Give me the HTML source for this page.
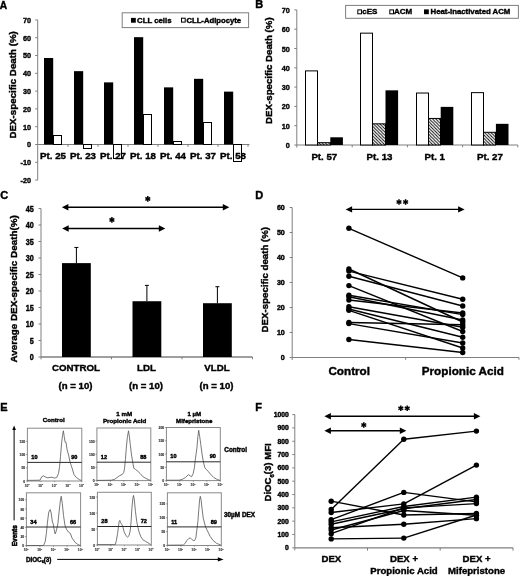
<!DOCTYPE html>
<html><head><meta charset="utf-8"><style>
html,body{margin:0;padding:0;background:#fff;}
svg{display:block;font-family:"Liberation Sans",sans-serif;will-change:transform;}
</style></head><body>
<svg width="520" height="576" viewBox="0 0 520 576">
<rect width="520" height="576" fill="#fff"/>
<text x="-0.20" y="8.80" font-size="10.2" text-anchor="start" font-weight="bold" fill="#000" stroke="#000" stroke-width="0.4" >A</text>
<line x1="37.70" y1="19.90" x2="37.70" y2="180.10" stroke="#7f7f7f" stroke-width="1" />
<line x1="35.20" y1="180.10" x2="37.70" y2="180.10" stroke="#7f7f7f" stroke-width="1" />
<text transform="translate(31.10,182.90) scale(0.9,1)" font-size="8.1" text-anchor="end" font-weight="bold" fill="#000" stroke="#000" stroke-width="0.4">-20</text>
<line x1="35.20" y1="162.30" x2="37.70" y2="162.30" stroke="#7f7f7f" stroke-width="1" />
<text transform="translate(31.10,165.10) scale(0.9,1)" font-size="8.1" text-anchor="end" font-weight="bold" fill="#000" stroke="#000" stroke-width="0.4">-10</text>
<line x1="35.20" y1="144.50" x2="37.70" y2="144.50" stroke="#7f7f7f" stroke-width="1" />
<text transform="translate(31.10,147.30) scale(0.9,1)" font-size="8.1" text-anchor="end" font-weight="bold" fill="#000" stroke="#000" stroke-width="0.4">0</text>
<line x1="35.20" y1="126.70" x2="37.70" y2="126.70" stroke="#7f7f7f" stroke-width="1" />
<text transform="translate(31.10,129.50) scale(0.9,1)" font-size="8.1" text-anchor="end" font-weight="bold" fill="#000" stroke="#000" stroke-width="0.4">10</text>
<line x1="35.20" y1="108.90" x2="37.70" y2="108.90" stroke="#7f7f7f" stroke-width="1" />
<text transform="translate(31.10,111.70) scale(0.9,1)" font-size="8.1" text-anchor="end" font-weight="bold" fill="#000" stroke="#000" stroke-width="0.4">20</text>
<line x1="35.20" y1="91.10" x2="37.70" y2="91.10" stroke="#7f7f7f" stroke-width="1" />
<text transform="translate(31.10,93.90) scale(0.9,1)" font-size="8.1" text-anchor="end" font-weight="bold" fill="#000" stroke="#000" stroke-width="0.4">30</text>
<line x1="35.20" y1="73.30" x2="37.70" y2="73.30" stroke="#7f7f7f" stroke-width="1" />
<text transform="translate(31.10,76.10) scale(0.9,1)" font-size="8.1" text-anchor="end" font-weight="bold" fill="#000" stroke="#000" stroke-width="0.4">40</text>
<line x1="35.20" y1="55.50" x2="37.70" y2="55.50" stroke="#7f7f7f" stroke-width="1" />
<text transform="translate(31.10,58.30) scale(0.9,1)" font-size="8.1" text-anchor="end" font-weight="bold" fill="#000" stroke="#000" stroke-width="0.4">50</text>
<line x1="35.20" y1="37.70" x2="37.70" y2="37.70" stroke="#7f7f7f" stroke-width="1" />
<text transform="translate(31.10,40.50) scale(0.9,1)" font-size="8.1" text-anchor="end" font-weight="bold" fill="#000" stroke="#000" stroke-width="0.4">60</text>
<line x1="35.20" y1="19.90" x2="37.70" y2="19.90" stroke="#7f7f7f" stroke-width="1" />
<text transform="translate(31.10,22.70) scale(0.9,1)" font-size="8.1" text-anchor="end" font-weight="bold" fill="#000" stroke="#000" stroke-width="0.4">70</text>
<line x1="37.70" y1="144.50" x2="249.50" y2="144.50" stroke="#7f7f7f" stroke-width="1" />
<line x1="68.00" y1="144.50" x2="68.00" y2="146.80" stroke="#7f7f7f" stroke-width="1" />
<line x1="98.00" y1="144.50" x2="98.00" y2="146.80" stroke="#7f7f7f" stroke-width="1" />
<line x1="128.00" y1="144.50" x2="128.00" y2="146.80" stroke="#7f7f7f" stroke-width="1" />
<line x1="158.00" y1="144.50" x2="158.00" y2="146.80" stroke="#7f7f7f" stroke-width="1" />
<line x1="188.00" y1="144.50" x2="188.00" y2="146.80" stroke="#7f7f7f" stroke-width="1" />
<line x1="218.00" y1="144.50" x2="218.00" y2="146.80" stroke="#7f7f7f" stroke-width="1" />
<line x1="248.00" y1="144.50" x2="248.00" y2="146.80" stroke="#7f7f7f" stroke-width="1" />
<rect x="44.00" y="57.99" width="9.20" height="86.51" fill="#000" stroke="none" stroke-width="1" />
<rect x="74.00" y="71.16" width="9.20" height="73.34" fill="#000" stroke="none" stroke-width="1" />
<rect x="104.00" y="82.38" width="9.20" height="62.12" fill="#000" stroke="none" stroke-width="1" />
<rect x="134.00" y="37.17" width="9.20" height="107.33" fill="#000" stroke="none" stroke-width="1" />
<rect x="164.00" y="87.36" width="9.20" height="57.14" fill="#000" stroke="none" stroke-width="1" />
<rect x="194.00" y="78.82" width="9.20" height="65.68" fill="#000" stroke="none" stroke-width="1" />
<rect x="224.00" y="91.63" width="9.20" height="52.87" fill="#000" stroke="none" stroke-width="1" />
<text x="53.00" y="159.00" font-size="9.7" text-anchor="middle" font-weight="bold" fill="#000" stroke="#000" stroke-width="0.4" >Pt. 25</text>
<text x="83.00" y="159.00" font-size="9.7" text-anchor="middle" font-weight="bold" fill="#000" stroke="#000" stroke-width="0.4" >Pt. 23</text>
<text x="113.00" y="159.00" font-size="9.7" text-anchor="middle" font-weight="bold" fill="#000" stroke="#000" stroke-width="0.4" >Pt. 27</text>
<text x="143.00" y="159.00" font-size="9.7" text-anchor="middle" font-weight="bold" fill="#000" stroke="#000" stroke-width="0.4" >Pt. 18</text>
<text x="173.00" y="159.00" font-size="9.7" text-anchor="middle" font-weight="bold" fill="#000" stroke="#000" stroke-width="0.4" >Pt. 44</text>
<text x="203.00" y="159.00" font-size="9.7" text-anchor="middle" font-weight="bold" fill="#000" stroke="#000" stroke-width="0.4" >Pt. 37</text>
<text x="233.00" y="159.00" font-size="9.7" text-anchor="middle" font-weight="bold" fill="#000" stroke="#000" stroke-width="0.4" >Pt. 58</text>
<rect x="53.50" y="135.50" width="8.00" height="9.00" fill="none" stroke="#000" stroke-width="1" />
<rect x="83.50" y="144.50" width="8.00" height="4.00" fill="none" stroke="#000" stroke-width="1" />
<rect x="113.50" y="144.50" width="8.00" height="14.00" fill="none" stroke="#000" stroke-width="1" />
<rect x="143.50" y="114.50" width="8.00" height="30.00" fill="none" stroke="#000" stroke-width="1" />
<rect x="173.50" y="141.50" width="8.00" height="3.00" fill="none" stroke="#000" stroke-width="1" />
<rect x="203.50" y="122.50" width="8.00" height="22.00" fill="none" stroke="#000" stroke-width="1" />
<rect x="233.50" y="144.50" width="8.00" height="17.00" fill="none" stroke="#000" stroke-width="1" />
<text transform="translate(15.70,84.80) rotate(-90)" font-size="9.75" text-anchor="middle" font-weight="bold" stroke="#000" stroke-width="0.4">DEX-specific Death (%)</text>
<rect x="122.20" y="12.80" width="126.40" height="14.80" fill="#fff" stroke="#7f7f7f" stroke-width="1" />
<rect x="131.00" y="17.90" width="4.80" height="4.80" fill="#000" stroke="none" stroke-width="1" />
<text x="137.00" y="22.80" font-size="7.8" text-anchor="start" font-weight="bold" fill="#000" stroke="#000" stroke-width="0.4" >CLL cells</text>
<rect x="181.50" y="18.20" width="3.70" height="3.90" fill="none" stroke="#000" stroke-width="1.0" />
<text x="186.40" y="22.80" font-size="7.7" text-anchor="start" font-weight="bold" fill="#000" stroke="#000" stroke-width="0.4" >CLL-Adipocyte</text>
<text x="255.20" y="8.40" font-size="11" text-anchor="start" font-weight="bold" fill="#000" stroke="#000" stroke-width="0.4" >B</text>
<line x1="296.80" y1="9.90" x2="296.80" y2="147.60" stroke="#7f7f7f" stroke-width="1" />
<line x1="294.30" y1="145.00" x2="296.80" y2="145.00" stroke="#7f7f7f" stroke-width="1" />
<text transform="translate(289.80,148.00) scale(0.9,1)" font-size="8.1" text-anchor="end" font-weight="bold" fill="#000" stroke="#000" stroke-width="0.4">0</text>
<line x1="294.30" y1="125.70" x2="296.80" y2="125.70" stroke="#7f7f7f" stroke-width="1" />
<text transform="translate(289.80,128.70) scale(0.9,1)" font-size="8.1" text-anchor="end" font-weight="bold" fill="#000" stroke="#000" stroke-width="0.4">10</text>
<line x1="294.30" y1="106.40" x2="296.80" y2="106.40" stroke="#7f7f7f" stroke-width="1" />
<text transform="translate(289.80,109.40) scale(0.9,1)" font-size="8.1" text-anchor="end" font-weight="bold" fill="#000" stroke="#000" stroke-width="0.4">20</text>
<line x1="294.30" y1="87.10" x2="296.80" y2="87.10" stroke="#7f7f7f" stroke-width="1" />
<text transform="translate(289.80,90.10) scale(0.9,1)" font-size="8.1" text-anchor="end" font-weight="bold" fill="#000" stroke="#000" stroke-width="0.4">30</text>
<line x1="294.30" y1="67.80" x2="296.80" y2="67.80" stroke="#7f7f7f" stroke-width="1" />
<text transform="translate(289.80,70.80) scale(0.9,1)" font-size="8.1" text-anchor="end" font-weight="bold" fill="#000" stroke="#000" stroke-width="0.4">40</text>
<line x1="294.30" y1="48.50" x2="296.80" y2="48.50" stroke="#7f7f7f" stroke-width="1" />
<text transform="translate(289.80,51.50) scale(0.9,1)" font-size="8.1" text-anchor="end" font-weight="bold" fill="#000" stroke="#000" stroke-width="0.4">50</text>
<line x1="294.30" y1="29.20" x2="296.80" y2="29.20" stroke="#7f7f7f" stroke-width="1" />
<text transform="translate(289.80,32.20) scale(0.9,1)" font-size="8.1" text-anchor="end" font-weight="bold" fill="#000" stroke="#000" stroke-width="0.4">60</text>
<line x1="294.30" y1="9.90" x2="296.80" y2="9.90" stroke="#7f7f7f" stroke-width="1" />
<text transform="translate(289.80,12.90) scale(0.9,1)" font-size="8.1" text-anchor="end" font-weight="bold" fill="#000" stroke="#000" stroke-width="0.4">70</text>
<line x1="296.80" y1="145.00" x2="517.80" y2="145.00" stroke="#7f7f7f" stroke-width="1" />
<line x1="352.20" y1="145.00" x2="352.20" y2="147.30" stroke="#7f7f7f" stroke-width="1" />
<line x1="407.40" y1="145.00" x2="407.40" y2="147.30" stroke="#7f7f7f" stroke-width="1" />
<line x1="462.60" y1="145.00" x2="462.60" y2="147.30" stroke="#7f7f7f" stroke-width="1" />
<line x1="517.80" y1="145.00" x2="517.80" y2="147.30" stroke="#7f7f7f" stroke-width="1" />
<defs><pattern id="hatch" patternUnits="userSpaceOnUse" width="3.2" height="3.2"><rect width="3.2" height="3.2" fill="#fff"/><path d="M-1,-1 L4.2,4.2 M-1,2.2 L1,4.2 M2.2,-1 L4.2,1" stroke="#000" stroke-width="0.95"/></pattern></defs>
<rect x="305.50" y="70.89" width="12.00" height="74.11" fill="#fff" stroke="#000" stroke-width="1" />
<rect x="317.50" y="142.69" width="13.00" height="2.31" fill="url(#hatch)" stroke="#000" stroke-width="1" />
<rect x="330.30" y="137.30" width="12.60" height="7.70" fill="#000" stroke="none" stroke-width="1" />
<text x="324.35" y="159.60" font-size="9.7" text-anchor="middle" font-weight="bold" fill="#000" stroke="#000" stroke-width="0.4" >Pt. 57</text>
<rect x="360.50" y="33.16" width="12.00" height="111.84" fill="#fff" stroke="#000" stroke-width="1" />
<rect x="372.50" y="123.83" width="13.00" height="21.18" fill="url(#hatch)" stroke="#000" stroke-width="1" />
<rect x="385.50" y="90.33" width="12.60" height="54.67" fill="#000" stroke="none" stroke-width="1" />
<text x="379.55" y="159.60" font-size="9.7" text-anchor="middle" font-weight="bold" fill="#000" stroke="#000" stroke-width="0.4" >Pt. 13</text>
<rect x="416.50" y="93.03" width="12.00" height="51.98" fill="#fff" stroke="#000" stroke-width="1" />
<rect x="428.50" y="118.44" width="12.00" height="26.57" fill="url(#hatch)" stroke="#000" stroke-width="1" />
<rect x="440.70" y="106.88" width="12.60" height="38.12" fill="#000" stroke="none" stroke-width="1" />
<text x="434.75" y="159.60" font-size="9.7" text-anchor="middle" font-weight="bold" fill="#000" stroke="#000" stroke-width="0.4" >Pt. 1</text>
<rect x="471.50" y="92.64" width="12.00" height="52.36" fill="#fff" stroke="#000" stroke-width="1" />
<rect x="483.50" y="132.29" width="12.00" height="12.71" fill="url(#hatch)" stroke="#000" stroke-width="1" />
<rect x="495.90" y="123.83" width="12.60" height="21.18" fill="#000" stroke="none" stroke-width="1" />
<text x="489.95" y="159.60" font-size="9.7" text-anchor="middle" font-weight="bold" fill="#000" stroke="#000" stroke-width="0.4" >Pt. 27</text>
<text transform="translate(272.30,70.60) rotate(-90)" font-size="9.7" text-anchor="middle" font-weight="bold" stroke="#000" stroke-width="0.4">DEX-specific Death (%)</text>
<rect x="345.60" y="5.40" width="172.80" height="12.90" fill="#fff" stroke="#7f7f7f" stroke-width="1" />
<rect x="357.80" y="9.90" width="3.70" height="3.90" fill="none" stroke="#000" stroke-width="1.0" />
<text x="362.30" y="14.20" font-size="8.0" text-anchor="start" font-weight="bold" fill="#000" stroke="#000" stroke-width="0.4" >cES</text>
<rect x="389.80" y="9.90" width="3.70" height="3.90" fill="none" stroke="#000" stroke-width="1.0" />
<text x="394.00" y="14.20" font-size="8.0" text-anchor="start" font-weight="bold" fill="#000" stroke="#000" stroke-width="0.4" >ACM</text>
<rect x="424.00" y="9.40" width="4.80" height="4.80" fill="#000" stroke="none" stroke-width="1" />
<text x="430.50" y="14.20" font-size="7.8" text-anchor="start" font-weight="bold" fill="#000" stroke="#000" stroke-width="0.4" >Heat-inactivated ACM</text>
<text x="0.20" y="198.60" font-size="11" text-anchor="start" font-weight="bold" fill="#000" stroke="#000" stroke-width="0.4" >C</text>
<line x1="41.00" y1="208.50" x2="41.00" y2="359.40" stroke="#7f7f7f" stroke-width="1" />
<line x1="38.50" y1="357.00" x2="41.00" y2="357.00" stroke="#7f7f7f" stroke-width="1" />
<text transform="translate(33.70,360.00) scale(0.88,1)" font-size="8.2" text-anchor="end" font-weight="bold" fill="#000" stroke="#000" stroke-width="0.4">0</text>
<line x1="38.50" y1="340.50" x2="41.00" y2="340.50" stroke="#7f7f7f" stroke-width="1" />
<text transform="translate(33.70,343.50) scale(0.88,1)" font-size="8.2" text-anchor="end" font-weight="bold" fill="#000" stroke="#000" stroke-width="0.4">5</text>
<line x1="38.50" y1="324.00" x2="41.00" y2="324.00" stroke="#7f7f7f" stroke-width="1" />
<text transform="translate(33.70,327.00) scale(0.88,1)" font-size="8.2" text-anchor="end" font-weight="bold" fill="#000" stroke="#000" stroke-width="0.4">10</text>
<line x1="38.50" y1="307.50" x2="41.00" y2="307.50" stroke="#7f7f7f" stroke-width="1" />
<text transform="translate(33.70,310.50) scale(0.88,1)" font-size="8.2" text-anchor="end" font-weight="bold" fill="#000" stroke="#000" stroke-width="0.4">15</text>
<line x1="38.50" y1="291.00" x2="41.00" y2="291.00" stroke="#7f7f7f" stroke-width="1" />
<text transform="translate(33.70,294.00) scale(0.88,1)" font-size="8.2" text-anchor="end" font-weight="bold" fill="#000" stroke="#000" stroke-width="0.4">20</text>
<line x1="38.50" y1="274.50" x2="41.00" y2="274.50" stroke="#7f7f7f" stroke-width="1" />
<text transform="translate(33.70,277.50) scale(0.88,1)" font-size="8.2" text-anchor="end" font-weight="bold" fill="#000" stroke="#000" stroke-width="0.4">25</text>
<line x1="38.50" y1="258.00" x2="41.00" y2="258.00" stroke="#7f7f7f" stroke-width="1" />
<text transform="translate(33.70,261.00) scale(0.88,1)" font-size="8.2" text-anchor="end" font-weight="bold" fill="#000" stroke="#000" stroke-width="0.4">30</text>
<line x1="38.50" y1="241.50" x2="41.00" y2="241.50" stroke="#7f7f7f" stroke-width="1" />
<text transform="translate(33.70,244.50) scale(0.88,1)" font-size="8.2" text-anchor="end" font-weight="bold" fill="#000" stroke="#000" stroke-width="0.4">35</text>
<line x1="38.50" y1="225.00" x2="41.00" y2="225.00" stroke="#7f7f7f" stroke-width="1" />
<text transform="translate(33.70,228.00) scale(0.88,1)" font-size="8.2" text-anchor="end" font-weight="bold" fill="#000" stroke="#000" stroke-width="0.4">40</text>
<line x1="38.50" y1="208.50" x2="41.00" y2="208.50" stroke="#7f7f7f" stroke-width="1" />
<text transform="translate(33.70,211.50) scale(0.88,1)" font-size="8.2" text-anchor="end" font-weight="bold" fill="#000" stroke="#000" stroke-width="0.4">45</text>
<line x1="41.00" y1="357.00" x2="252.50" y2="357.00" stroke="#7f7f7f" stroke-width="1.3" />
<line x1="111.50" y1="357.00" x2="111.50" y2="359.30" stroke="#7f7f7f" stroke-width="1" />
<line x1="182.00" y1="357.00" x2="182.00" y2="359.30" stroke="#7f7f7f" stroke-width="1" />
<line x1="252.50" y1="357.00" x2="252.50" y2="359.30" stroke="#7f7f7f" stroke-width="1" />
<rect x="62.00" y="263.12" width="28.80" height="93.88" fill="#000" stroke="none" stroke-width="1" />
<line x1="76.40" y1="263.12" x2="76.40" y2="247.44" stroke="#000" stroke-width="1" />
<line x1="74.40" y1="247.44" x2="78.40" y2="247.44" stroke="#000" stroke-width="1" />
<text x="75.90" y="371.30" font-size="9.7" text-anchor="middle" font-weight="bold" fill="#000" stroke="#000" stroke-width="0.4" >CONTROL</text>
<text x="75.50" y="389.00" font-size="9.6" text-anchor="middle" font-weight="bold" fill="#000" stroke="#000" stroke-width="0.4" >(n = 10)</text>
<rect x="132.50" y="301.23" width="28.80" height="55.77" fill="#000" stroke="none" stroke-width="1" />
<line x1="146.90" y1="301.23" x2="146.90" y2="285.39" stroke="#000" stroke-width="1" />
<line x1="144.90" y1="285.39" x2="148.90" y2="285.39" stroke="#000" stroke-width="1" />
<text x="146.40" y="371.30" font-size="9.7" text-anchor="middle" font-weight="bold" fill="#000" stroke="#000" stroke-width="0.4" >LDL</text>
<text x="146.00" y="389.00" font-size="9.6" text-anchor="middle" font-weight="bold" fill="#000" stroke="#000" stroke-width="0.4" >(n = 10)</text>
<rect x="203.00" y="303.21" width="28.80" height="53.79" fill="#000" stroke="none" stroke-width="1" />
<line x1="217.40" y1="303.21" x2="217.40" y2="286.71" stroke="#000" stroke-width="1" />
<line x1="215.40" y1="286.71" x2="219.40" y2="286.71" stroke="#000" stroke-width="1" />
<text x="216.90" y="371.30" font-size="9.7" text-anchor="middle" font-weight="bold" fill="#000" stroke="#000" stroke-width="0.4" >VLDL</text>
<text x="216.50" y="389.00" font-size="9.6" text-anchor="middle" font-weight="bold" fill="#000" stroke="#000" stroke-width="0.4" >(n = 10)</text>
<text transform="translate(17.20,288.80) rotate(-90)" font-size="9.9" text-anchor="middle" font-weight="bold" stroke="#000" stroke-width="0.4">Average DEX-specific Death(%)</text>
<line x1="67.10" y1="207.20" x2="224.10" y2="207.20" stroke="#000" stroke-width="1.4" />
<polygon points="61.90,207.20 68.40,204.00 68.40,210.40" fill="#000"/>
<polygon points="229.30,207.20 222.80,204.00 222.80,210.40" fill="#000"/>
<line x1="67.40" y1="228.50" x2="160.10" y2="228.50" stroke="#000" stroke-width="1.4" />
<polygon points="62.20,228.50 68.70,225.30 68.70,231.70" fill="#000"/>
<polygon points="165.30,228.50 158.80,225.30 158.80,231.70" fill="#000"/>
<line x1="147.80" y1="196.10" x2="147.80" y2="201.70" stroke="#000" stroke-width="1.5" />
<line x1="145.38" y1="197.50" x2="150.22" y2="200.30" stroke="#000" stroke-width="1.5" />
<line x1="150.22" y1="197.50" x2="145.38" y2="200.30" stroke="#000" stroke-width="1.5" />
<line x1="111.90" y1="217.10" x2="111.90" y2="222.70" stroke="#000" stroke-width="1.5" />
<line x1="109.48" y1="218.50" x2="114.32" y2="221.30" stroke="#000" stroke-width="1.5" />
<line x1="114.32" y1="218.50" x2="109.48" y2="221.30" stroke="#000" stroke-width="1.5" />
<text x="255.20" y="198.80" font-size="11" text-anchor="start" font-weight="bold" fill="#000" stroke="#000" stroke-width="0.4" >D</text>
<line x1="292.20" y1="207.50" x2="292.20" y2="360.00" stroke="#7f7f7f" stroke-width="1" />
<line x1="289.70" y1="357.50" x2="292.20" y2="357.50" stroke="#7f7f7f" stroke-width="1" />
<text x="284.80" y="360.20" font-size="7.1" text-anchor="end" font-weight="bold" fill="#000" stroke="#000" stroke-width="0.4" >0</text>
<line x1="289.70" y1="332.50" x2="292.20" y2="332.50" stroke="#7f7f7f" stroke-width="1" />
<text x="284.80" y="335.20" font-size="7.1" text-anchor="end" font-weight="bold" fill="#000" stroke="#000" stroke-width="0.4" >10</text>
<line x1="289.70" y1="307.50" x2="292.20" y2="307.50" stroke="#7f7f7f" stroke-width="1" />
<text x="284.80" y="310.20" font-size="7.1" text-anchor="end" font-weight="bold" fill="#000" stroke="#000" stroke-width="0.4" >20</text>
<line x1="289.70" y1="282.50" x2="292.20" y2="282.50" stroke="#7f7f7f" stroke-width="1" />
<text x="284.80" y="285.20" font-size="7.1" text-anchor="end" font-weight="bold" fill="#000" stroke="#000" stroke-width="0.4" >30</text>
<line x1="289.70" y1="257.50" x2="292.20" y2="257.50" stroke="#7f7f7f" stroke-width="1" />
<text x="284.80" y="260.20" font-size="7.1" text-anchor="end" font-weight="bold" fill="#000" stroke="#000" stroke-width="0.4" >40</text>
<line x1="289.70" y1="232.50" x2="292.20" y2="232.50" stroke="#7f7f7f" stroke-width="1" />
<text x="284.80" y="235.20" font-size="7.1" text-anchor="end" font-weight="bold" fill="#000" stroke="#000" stroke-width="0.4" >50</text>
<line x1="289.70" y1="207.50" x2="292.20" y2="207.50" stroke="#7f7f7f" stroke-width="1" />
<text x="284.80" y="210.20" font-size="7.1" text-anchor="end" font-weight="bold" fill="#000" stroke="#000" stroke-width="0.4" >60</text>
<line x1="292.20" y1="357.50" x2="519.00" y2="357.50" stroke="#7f7f7f" stroke-width="1" />
<line x1="405.60" y1="357.50" x2="405.60" y2="359.80" stroke="#7f7f7f" stroke-width="1" />
<line x1="519.00" y1="357.50" x2="519.00" y2="359.80" stroke="#7f7f7f" stroke-width="1" />
<text x="349.20" y="375.30" font-size="11.7" text-anchor="middle" font-weight="bold" fill="#000" stroke="#000" stroke-width="0.4" >Control</text>
<text x="462.80" y="375.30" font-size="11.7" text-anchor="middle" font-weight="bold" fill="#000" stroke="#000" stroke-width="0.4" >Propionic Acid</text>
<text transform="translate(267.80,279.70) rotate(-90)" font-size="9.7" text-anchor="middle" font-weight="bold" stroke="#000" stroke-width="0.4">DEX-specific death (%)</text>
<line x1="350.80" y1="209.40" x2="459.40" y2="209.40" stroke="#000" stroke-width="1.4" />
<polygon points="345.60,209.40 352.10,206.20 352.10,212.60" fill="#000"/>
<polygon points="464.60,209.40 458.10,206.20 458.10,212.60" fill="#000"/>
<line x1="399.00" y1="199.20" x2="399.00" y2="204.80" stroke="#000" stroke-width="1.5" />
<line x1="396.58" y1="200.60" x2="401.42" y2="203.40" stroke="#000" stroke-width="1.5" />
<line x1="401.42" y1="200.60" x2="396.58" y2="203.40" stroke="#000" stroke-width="1.5" />
<line x1="405.60" y1="199.20" x2="405.60" y2="204.80" stroke="#000" stroke-width="1.5" />
<line x1="403.18" y1="200.60" x2="408.02" y2="203.40" stroke="#000" stroke-width="1.5" />
<line x1="408.02" y1="200.60" x2="403.18" y2="203.40" stroke="#000" stroke-width="1.5" />
<line x1="348.90" y1="228.30" x2="462.70" y2="277.90" stroke="#000" stroke-width="1.4" />
<line x1="348.90" y1="269.00" x2="462.70" y2="322.00" stroke="#000" stroke-width="1.4" />
<line x1="348.90" y1="271.10" x2="462.70" y2="299.30" stroke="#000" stroke-width="1.4" />
<line x1="348.90" y1="276.30" x2="462.70" y2="306.00" stroke="#000" stroke-width="1.4" />
<line x1="348.90" y1="285.60" x2="462.70" y2="331.50" stroke="#000" stroke-width="1.4" />
<line x1="348.90" y1="295.30" x2="462.70" y2="314.60" stroke="#000" stroke-width="1.4" />
<line x1="348.90" y1="296.80" x2="462.70" y2="320.00" stroke="#000" stroke-width="1.4" />
<line x1="348.90" y1="300.00" x2="462.70" y2="313.00" stroke="#000" stroke-width="1.4" />
<line x1="348.90" y1="306.70" x2="462.70" y2="327.30" stroke="#000" stroke-width="1.4" />
<line x1="348.90" y1="309.00" x2="462.70" y2="337.20" stroke="#000" stroke-width="1.4" />
<line x1="348.90" y1="310.30" x2="462.70" y2="348.00" stroke="#000" stroke-width="1.4" />
<line x1="348.90" y1="322.50" x2="462.70" y2="324.80" stroke="#000" stroke-width="1.4" />
<line x1="348.90" y1="323.60" x2="462.70" y2="343.00" stroke="#000" stroke-width="1.4" />
<line x1="348.90" y1="339.50" x2="462.70" y2="352.50" stroke="#000" stroke-width="1.4" />
<circle cx="348.90" cy="228.30" r="2.7" fill="#000"/>
<circle cx="462.70" cy="277.90" r="2.7" fill="#000"/>
<circle cx="348.90" cy="269.00" r="2.7" fill="#000"/>
<circle cx="462.70" cy="322.00" r="2.7" fill="#000"/>
<circle cx="348.90" cy="271.10" r="2.7" fill="#000"/>
<circle cx="462.70" cy="299.30" r="2.7" fill="#000"/>
<circle cx="348.90" cy="276.30" r="2.7" fill="#000"/>
<circle cx="462.70" cy="306.00" r="2.7" fill="#000"/>
<circle cx="348.90" cy="285.60" r="2.7" fill="#000"/>
<circle cx="462.70" cy="331.50" r="2.7" fill="#000"/>
<circle cx="348.90" cy="295.30" r="2.7" fill="#000"/>
<circle cx="462.70" cy="314.60" r="2.7" fill="#000"/>
<circle cx="348.90" cy="296.80" r="2.7" fill="#000"/>
<circle cx="462.70" cy="320.00" r="2.7" fill="#000"/>
<circle cx="348.90" cy="300.00" r="2.7" fill="#000"/>
<circle cx="462.70" cy="313.00" r="2.7" fill="#000"/>
<circle cx="348.90" cy="306.70" r="2.7" fill="#000"/>
<circle cx="462.70" cy="327.30" r="2.7" fill="#000"/>
<circle cx="348.90" cy="309.00" r="2.7" fill="#000"/>
<circle cx="462.70" cy="337.20" r="2.7" fill="#000"/>
<circle cx="348.90" cy="310.30" r="2.7" fill="#000"/>
<circle cx="462.70" cy="348.00" r="2.7" fill="#000"/>
<circle cx="348.90" cy="322.50" r="2.7" fill="#000"/>
<circle cx="462.70" cy="324.80" r="2.7" fill="#000"/>
<circle cx="348.90" cy="323.60" r="2.7" fill="#000"/>
<circle cx="462.70" cy="343.00" r="2.7" fill="#000"/>
<circle cx="348.90" cy="339.50" r="2.7" fill="#000"/>
<circle cx="462.70" cy="352.50" r="2.7" fill="#000"/>
<text x="0.30" y="411.00" font-size="11" text-anchor="start" font-weight="bold" fill="#000" stroke="#000" stroke-width="0.4" >E</text>
<line x1="14.10" y1="428.50" x2="14.10" y2="520.40" stroke="#000" stroke-width="1" />
<polygon points="14.1,425.6 12.3,430 15.9,430" fill="#000"/>
<text transform="translate(16.70,535.70) rotate(-90)" font-size="6.4" text-anchor="middle" font-weight="bold" stroke="#000" stroke-width="0.55">Events</text>
<text x="25.90" y="561.60" font-size="6.3" text-anchor="start" font-weight="bold" fill="#000" stroke="#000" stroke-width="0.4" >DIOC<tspan font-size="3.8" dy="1.3">6</tspan><tspan dy="-1.3">(3)</tspan></text>
<line x1="57.20" y1="559.40" x2="221.00" y2="559.40" stroke="#000" stroke-width="1" />
<polygon points="223.6,559.4 217.8,557.3 217.8,561.5" fill="#000"/>
<text x="53.70" y="422.40" font-size="6.2" text-anchor="middle" font-weight="bold" fill="#000" stroke="#000" stroke-width="0.4" >Control</text>
<text x="124.20" y="415.60" font-size="6.2" text-anchor="middle" font-weight="bold" fill="#000" stroke="#000" stroke-width="0.4" >1 mM</text>
<text x="124.60" y="422.90" font-size="6.2" text-anchor="middle" font-weight="bold" fill="#000" stroke="#000" stroke-width="0.4" >Propionic Acid</text>
<text x="194.30" y="415.90" font-size="6.1" text-anchor="middle" font-weight="bold" fill="#000" stroke="#000" stroke-width="0.4" >1 µM</text>
<text x="194.20" y="422.80" font-size="6.1" text-anchor="middle" font-weight="bold" fill="#000" stroke="#000" stroke-width="0.4" >Mifepristone</text>
<text x="224.30" y="451.60" font-size="6.4" text-anchor="start" font-weight="bold" fill="#000" stroke="#000" stroke-width="0.4" >Control</text>
<text x="224.00" y="516.60" font-size="6.4" text-anchor="start" font-weight="bold" fill="#000" stroke="#000" stroke-width="0.4" >30µM DEX</text>
<rect x="27.40" y="428.20" width="54.40" height="52.80" fill="#fff" stroke="#8a8a8a" stroke-width="1" />
<polyline points="27.50,480.40 40.00,480.20 41.70,476.90 43.50,475.80 45.20,476.90 47.50,477.80 49.80,477.50 52.10,477.20 54.40,478.10 56.70,477.50 58.50,473.50 59.60,466.50 60.50,456.20 61.70,442.30 62.50,435.40 63.40,430.80 64.20,436.50 65.20,442.30 66.00,442.30 67.10,449.80 68.60,455.00 70.00,461.90 71.20,465.40 72.30,468.80 74.00,474.60 76.30,477.50 79.20,479.50 81.50,480.60" fill="none" stroke="#555" stroke-width="0.8" stroke-linejoin="round"/>
<line x1="27.40" y1="462.40" x2="81.80" y2="462.40" stroke="#2a2a2a" stroke-width="1.0" />
<text x="31.30" y="459.00" font-size="5.6" text-anchor="start" font-weight="bold" fill="#000" stroke="#000" stroke-width="0.4" >10</text>
<text x="71.20" y="459.00" font-size="5.6" text-anchor="start" font-weight="bold" fill="#000" stroke="#000" stroke-width="0.4" >90</text>
<line x1="27.40" y1="481.00" x2="27.40" y2="482.20" stroke="#666" stroke-width="0.6" />
<text x="27.10" y="486.60" font-size="3.3" text-anchor="middle" font-weight="bold" fill="#444" stroke="#444" stroke-width="0.15" >10<tspan font-size="2.2" dy="-1.2">0</tspan></text>
<line x1="41.00" y1="481.00" x2="41.00" y2="482.20" stroke="#666" stroke-width="0.6" />
<text x="40.70" y="486.60" font-size="3.3" text-anchor="middle" font-weight="bold" fill="#444" stroke="#444" stroke-width="0.15" >10<tspan font-size="2.2" dy="-1.2">1</tspan></text>
<line x1="54.60" y1="481.00" x2="54.60" y2="482.20" stroke="#666" stroke-width="0.6" />
<text x="54.30" y="486.60" font-size="3.3" text-anchor="middle" font-weight="bold" fill="#444" stroke="#444" stroke-width="0.15" >10<tspan font-size="2.2" dy="-1.2">2</tspan></text>
<line x1="68.20" y1="481.00" x2="68.20" y2="482.20" stroke="#666" stroke-width="0.6" />
<text x="67.90" y="486.60" font-size="3.3" text-anchor="middle" font-weight="bold" fill="#444" stroke="#444" stroke-width="0.15" >10<tspan font-size="2.2" dy="-1.2">3</tspan></text>
<line x1="81.80" y1="481.00" x2="81.80" y2="482.20" stroke="#666" stroke-width="0.6" />
<text x="81.50" y="486.60" font-size="3.3" text-anchor="middle" font-weight="bold" fill="#444" stroke="#444" stroke-width="0.15" >10<tspan font-size="2.2" dy="-1.2">4</tspan></text>
<line x1="25.90" y1="441.40" x2="27.40" y2="441.40" stroke="#666" stroke-width="0.6" />
<text x="25.20" y="443.00" font-size="3.4" text-anchor="end" font-weight="bold" fill="#333" stroke="#333" stroke-width="0.15" >150</text>
<line x1="25.90" y1="454.60" x2="27.40" y2="454.60" stroke="#666" stroke-width="0.6" />
<text x="25.20" y="456.20" font-size="3.4" text-anchor="end" font-weight="bold" fill="#333" stroke="#333" stroke-width="0.15" >100</text>
<line x1="25.90" y1="467.80" x2="27.40" y2="467.80" stroke="#666" stroke-width="0.6" />
<text x="25.20" y="469.40" font-size="3.4" text-anchor="end" font-weight="bold" fill="#333" stroke="#333" stroke-width="0.15" >50</text>
<line x1="25.90" y1="481.00" x2="27.40" y2="481.00" stroke="#666" stroke-width="0.6" />
<text x="25.20" y="482.60" font-size="3.4" text-anchor="end" font-weight="bold" fill="#333" stroke="#333" stroke-width="0.15" >0</text>
<rect x="96.90" y="428.00" width="53.90" height="52.60" fill="#fff" stroke="#8a8a8a" stroke-width="1" />
<polyline points="96.90,480.40 111.30,480.20 114.80,479.20 117.10,477.50 119.40,475.80 122.30,474.40 123.80,472.30 124.60,467.70 125.40,459.60 126.30,448.10 127.30,437.80 128.50,430.80 129.30,436.00 130.30,444.60 131.50,455.00 132.70,461.90 133.80,468.30 135.50,469.40 137.80,471.20 140.20,473.50 142.50,476.30 145.30,478.10 148.20,479.50 150.50,480.40" fill="none" stroke="#555" stroke-width="0.8" stroke-linejoin="round"/>
<line x1="96.90" y1="462.20" x2="150.80" y2="462.20" stroke="#2a2a2a" stroke-width="1.0" />
<text x="100.80" y="458.80" font-size="5.6" text-anchor="start" font-weight="bold" fill="#000" stroke="#000" stroke-width="0.4" >12</text>
<text x="140.20" y="458.80" font-size="5.6" text-anchor="start" font-weight="bold" fill="#000" stroke="#000" stroke-width="0.4" >88</text>
<line x1="96.90" y1="480.60" x2="96.90" y2="481.80" stroke="#666" stroke-width="0.6" />
<text x="96.60" y="486.20" font-size="3.3" text-anchor="middle" font-weight="bold" fill="#444" stroke="#444" stroke-width="0.15" >10<tspan font-size="2.2" dy="-1.2">0</tspan></text>
<line x1="110.38" y1="480.60" x2="110.38" y2="481.80" stroke="#666" stroke-width="0.6" />
<text x="110.08" y="486.20" font-size="3.3" text-anchor="middle" font-weight="bold" fill="#444" stroke="#444" stroke-width="0.15" >10<tspan font-size="2.2" dy="-1.2">1</tspan></text>
<line x1="123.85" y1="480.60" x2="123.85" y2="481.80" stroke="#666" stroke-width="0.6" />
<text x="123.55" y="486.20" font-size="3.3" text-anchor="middle" font-weight="bold" fill="#444" stroke="#444" stroke-width="0.15" >10<tspan font-size="2.2" dy="-1.2">2</tspan></text>
<line x1="137.33" y1="480.60" x2="137.33" y2="481.80" stroke="#666" stroke-width="0.6" />
<text x="137.03" y="486.20" font-size="3.3" text-anchor="middle" font-weight="bold" fill="#444" stroke="#444" stroke-width="0.15" >10<tspan font-size="2.2" dy="-1.2">3</tspan></text>
<line x1="150.80" y1="480.60" x2="150.80" y2="481.80" stroke="#666" stroke-width="0.6" />
<text x="150.50" y="486.20" font-size="3.3" text-anchor="middle" font-weight="bold" fill="#444" stroke="#444" stroke-width="0.15" >10<tspan font-size="2.2" dy="-1.2">4</tspan></text>
<line x1="95.40" y1="441.15" x2="96.90" y2="441.15" stroke="#666" stroke-width="0.6" />
<text x="94.70" y="442.75" font-size="3.4" text-anchor="end" font-weight="bold" fill="#333" stroke="#333" stroke-width="0.15" >150</text>
<line x1="95.40" y1="454.30" x2="96.90" y2="454.30" stroke="#666" stroke-width="0.6" />
<text x="94.70" y="455.90" font-size="3.4" text-anchor="end" font-weight="bold" fill="#333" stroke="#333" stroke-width="0.15" >100</text>
<line x1="95.40" y1="467.45" x2="96.90" y2="467.45" stroke="#666" stroke-width="0.6" />
<text x="94.70" y="469.05" font-size="3.4" text-anchor="end" font-weight="bold" fill="#333" stroke="#333" stroke-width="0.15" >50</text>
<line x1="95.40" y1="480.60" x2="96.90" y2="480.60" stroke="#666" stroke-width="0.6" />
<text x="94.70" y="482.20" font-size="3.4" text-anchor="end" font-weight="bold" fill="#333" stroke="#333" stroke-width="0.15" >0</text>
<rect x="166.40" y="427.50" width="53.90" height="53.10" fill="#fff" stroke="#8a8a8a" stroke-width="1" />
<polyline points="166.40,480.20 179.20,480.20 182.60,479.20 185.50,477.50 188.40,474.60 190.10,475.80 191.60,476.70 193.20,473.50 194.40,467.70 195.30,459.60 196.90,448.10 197.90,436.50 198.70,430.30 199.70,436.50 200.80,444.60 202.20,455.00 203.40,461.90 204.80,467.70 206.30,469.40 208.00,471.20 210.30,474.00 213.80,477.50 217.20,479.50 220.10,480.40" fill="none" stroke="#555" stroke-width="0.8" stroke-linejoin="round"/>
<line x1="166.40" y1="461.80" x2="220.30" y2="461.80" stroke="#2a2a2a" stroke-width="1.0" />
<text x="170.30" y="458.40" font-size="5.6" text-anchor="start" font-weight="bold" fill="#000" stroke="#000" stroke-width="0.4" >10</text>
<text x="209.70" y="458.40" font-size="5.6" text-anchor="start" font-weight="bold" fill="#000" stroke="#000" stroke-width="0.4" >90</text>
<line x1="166.40" y1="480.60" x2="166.40" y2="481.80" stroke="#666" stroke-width="0.6" />
<text x="166.10" y="486.20" font-size="3.3" text-anchor="middle" font-weight="bold" fill="#444" stroke="#444" stroke-width="0.15" >10<tspan font-size="2.2" dy="-1.2">0</tspan></text>
<line x1="179.88" y1="480.60" x2="179.88" y2="481.80" stroke="#666" stroke-width="0.6" />
<text x="179.57" y="486.20" font-size="3.3" text-anchor="middle" font-weight="bold" fill="#444" stroke="#444" stroke-width="0.15" >10<tspan font-size="2.2" dy="-1.2">1</tspan></text>
<line x1="193.35" y1="480.60" x2="193.35" y2="481.80" stroke="#666" stroke-width="0.6" />
<text x="193.05" y="486.20" font-size="3.3" text-anchor="middle" font-weight="bold" fill="#444" stroke="#444" stroke-width="0.15" >10<tspan font-size="2.2" dy="-1.2">2</tspan></text>
<line x1="206.83" y1="480.60" x2="206.83" y2="481.80" stroke="#666" stroke-width="0.6" />
<text x="206.53" y="486.20" font-size="3.3" text-anchor="middle" font-weight="bold" fill="#444" stroke="#444" stroke-width="0.15" >10<tspan font-size="2.2" dy="-1.2">3</tspan></text>
<line x1="220.30" y1="480.60" x2="220.30" y2="481.80" stroke="#666" stroke-width="0.6" />
<text x="220.00" y="486.20" font-size="3.3" text-anchor="middle" font-weight="bold" fill="#444" stroke="#444" stroke-width="0.15" >10<tspan font-size="2.2" dy="-1.2">4</tspan></text>
<line x1="164.90" y1="427.50" x2="166.40" y2="427.50" stroke="#666" stroke-width="0.6" />
<text x="164.20" y="429.10" font-size="3.4" text-anchor="end" font-weight="bold" fill="#333" stroke="#333" stroke-width="0.15" >200</text>
<line x1="164.90" y1="440.77" x2="166.40" y2="440.77" stroke="#666" stroke-width="0.6" />
<text x="164.20" y="442.38" font-size="3.4" text-anchor="end" font-weight="bold" fill="#333" stroke="#333" stroke-width="0.15" >150</text>
<line x1="164.90" y1="454.05" x2="166.40" y2="454.05" stroke="#666" stroke-width="0.6" />
<text x="164.20" y="455.65" font-size="3.4" text-anchor="end" font-weight="bold" fill="#333" stroke="#333" stroke-width="0.15" >100</text>
<line x1="164.90" y1="467.33" x2="166.40" y2="467.33" stroke="#666" stroke-width="0.6" />
<text x="164.20" y="468.93" font-size="3.4" text-anchor="end" font-weight="bold" fill="#333" stroke="#333" stroke-width="0.15" >50</text>
<line x1="164.90" y1="480.60" x2="166.40" y2="480.60" stroke="#666" stroke-width="0.6" />
<text x="164.20" y="482.20" font-size="3.4" text-anchor="end" font-weight="bold" fill="#333" stroke="#333" stroke-width="0.15" >0</text>
<rect x="26.40" y="492.80" width="54.20" height="52.90" fill="#fff" stroke="#8a8a8a" stroke-width="1" />
<polyline points="26.50,545.50 43.50,545.50 45.20,541.70 46.40,533.30 47.30,523.80 48.60,513.00 49.60,510.10 50.30,509.60 51.20,513.00 52.40,522.00 53.20,523.80 54.00,528.50 55.10,533.90 56.30,530.90 57.90,523.80 59.10,511.80 60.30,501.10 61.20,496.30 62.30,503.50 63.50,515.40 64.90,525.00 66.40,529.10 68.50,532.10 70.30,533.30 72.10,538.10 75.10,542.30 78.00,544.60 80.40,545.50" fill="none" stroke="#555" stroke-width="0.8" stroke-linejoin="round"/>
<line x1="26.40" y1="527.00" x2="80.60" y2="527.00" stroke="#2a2a2a" stroke-width="1.0" />
<text x="30.30" y="523.60" font-size="5.6" text-anchor="start" font-weight="bold" fill="#000" stroke="#000" stroke-width="0.4" >34</text>
<text x="70.00" y="523.60" font-size="5.6" text-anchor="start" font-weight="bold" fill="#000" stroke="#000" stroke-width="0.4" >66</text>
<line x1="26.40" y1="545.70" x2="26.40" y2="546.90" stroke="#666" stroke-width="0.6" />
<text x="26.10" y="551.30" font-size="3.3" text-anchor="middle" font-weight="bold" fill="#444" stroke="#444" stroke-width="0.15" >10<tspan font-size="2.2" dy="-1.2">0</tspan></text>
<line x1="39.95" y1="545.70" x2="39.95" y2="546.90" stroke="#666" stroke-width="0.6" />
<text x="39.65" y="551.30" font-size="3.3" text-anchor="middle" font-weight="bold" fill="#444" stroke="#444" stroke-width="0.15" >10<tspan font-size="2.2" dy="-1.2">1</tspan></text>
<line x1="53.50" y1="545.70" x2="53.50" y2="546.90" stroke="#666" stroke-width="0.6" />
<text x="53.20" y="551.30" font-size="3.3" text-anchor="middle" font-weight="bold" fill="#444" stroke="#444" stroke-width="0.15" >10<tspan font-size="2.2" dy="-1.2">2</tspan></text>
<line x1="67.05" y1="545.70" x2="67.05" y2="546.90" stroke="#666" stroke-width="0.6" />
<text x="66.75" y="551.30" font-size="3.3" text-anchor="middle" font-weight="bold" fill="#444" stroke="#444" stroke-width="0.15" >10<tspan font-size="2.2" dy="-1.2">3</tspan></text>
<line x1="80.60" y1="545.70" x2="80.60" y2="546.90" stroke="#666" stroke-width="0.6" />
<text x="80.30" y="551.30" font-size="3.3" text-anchor="middle" font-weight="bold" fill="#444" stroke="#444" stroke-width="0.15" >10<tspan font-size="2.2" dy="-1.2">4</tspan></text>
<line x1="24.90" y1="499.70" x2="26.40" y2="499.70" stroke="#666" stroke-width="0.6" />
<text x="24.20" y="501.30" font-size="3.4" text-anchor="end" font-weight="bold" fill="#333" stroke="#333" stroke-width="0.15" >100</text>
<line x1="24.90" y1="508.90" x2="26.40" y2="508.90" stroke="#666" stroke-width="0.6" />
<text x="24.20" y="510.50" font-size="3.4" text-anchor="end" font-weight="bold" fill="#333" stroke="#333" stroke-width="0.15" >80</text>
<line x1="24.90" y1="518.10" x2="26.40" y2="518.10" stroke="#666" stroke-width="0.6" />
<text x="24.20" y="519.70" font-size="3.4" text-anchor="end" font-weight="bold" fill="#333" stroke="#333" stroke-width="0.15" >60</text>
<line x1="24.90" y1="527.30" x2="26.40" y2="527.30" stroke="#666" stroke-width="0.6" />
<text x="24.20" y="528.90" font-size="3.4" text-anchor="end" font-weight="bold" fill="#333" stroke="#333" stroke-width="0.15" >40</text>
<line x1="24.90" y1="536.50" x2="26.40" y2="536.50" stroke="#666" stroke-width="0.6" />
<text x="24.20" y="538.10" font-size="3.4" text-anchor="end" font-weight="bold" fill="#333" stroke="#333" stroke-width="0.15" >20</text>
<line x1="24.90" y1="545.70" x2="26.40" y2="545.70" stroke="#666" stroke-width="0.6" />
<text x="24.20" y="547.30" font-size="3.4" text-anchor="end" font-weight="bold" fill="#333" stroke="#333" stroke-width="0.15" >0</text>
<rect x="97.40" y="492.30" width="53.90" height="52.70" fill="#fff" stroke="#8a8a8a" stroke-width="1" />
<polyline points="97.40,544.60 115.30,544.60 116.40,540.50 117.60,533.30 118.50,526.20 119.20,521.40 119.80,520.40 120.60,522.60 121.80,524.40 123.00,527.30 124.20,532.10 126.00,535.70 127.50,537.10 129.00,535.70 130.20,530.90 131.10,521.40 131.90,508.30 132.80,498.70 133.50,495.40 134.30,499.90 135.50,511.80 136.70,521.40 137.90,527.30 139.10,532.10 140.90,536.90 143.30,540.20 145.70,541.40 148.00,542.80 150.70,544.60" fill="none" stroke="#555" stroke-width="0.8" stroke-linejoin="round"/>
<line x1="97.40" y1="526.50" x2="151.30" y2="526.50" stroke="#2a2a2a" stroke-width="1.0" />
<text x="101.30" y="523.10" font-size="5.6" text-anchor="start" font-weight="bold" fill="#000" stroke="#000" stroke-width="0.4" >28</text>
<text x="140.70" y="523.10" font-size="5.6" text-anchor="start" font-weight="bold" fill="#000" stroke="#000" stroke-width="0.4" >72</text>
<line x1="97.40" y1="545.00" x2="97.40" y2="546.20" stroke="#666" stroke-width="0.6" />
<text x="97.10" y="550.60" font-size="3.3" text-anchor="middle" font-weight="bold" fill="#444" stroke="#444" stroke-width="0.15" >10<tspan font-size="2.2" dy="-1.2">0</tspan></text>
<line x1="110.88" y1="545.00" x2="110.88" y2="546.20" stroke="#666" stroke-width="0.6" />
<text x="110.58" y="550.60" font-size="3.3" text-anchor="middle" font-weight="bold" fill="#444" stroke="#444" stroke-width="0.15" >10<tspan font-size="2.2" dy="-1.2">1</tspan></text>
<line x1="124.35" y1="545.00" x2="124.35" y2="546.20" stroke="#666" stroke-width="0.6" />
<text x="124.05" y="550.60" font-size="3.3" text-anchor="middle" font-weight="bold" fill="#444" stroke="#444" stroke-width="0.15" >10<tspan font-size="2.2" dy="-1.2">2</tspan></text>
<line x1="137.83" y1="545.00" x2="137.83" y2="546.20" stroke="#666" stroke-width="0.6" />
<text x="137.53" y="550.60" font-size="3.3" text-anchor="middle" font-weight="bold" fill="#444" stroke="#444" stroke-width="0.15" >10<tspan font-size="2.2" dy="-1.2">3</tspan></text>
<line x1="151.30" y1="545.00" x2="151.30" y2="546.20" stroke="#666" stroke-width="0.6" />
<text x="151.00" y="550.60" font-size="3.3" text-anchor="middle" font-weight="bold" fill="#444" stroke="#444" stroke-width="0.15" >10<tspan font-size="2.2" dy="-1.2">4</tspan></text>
<line x1="95.90" y1="497.09" x2="97.40" y2="497.09" stroke="#666" stroke-width="0.6" />
<text x="95.20" y="498.69" font-size="3.4" text-anchor="end" font-weight="bold" fill="#333" stroke="#333" stroke-width="0.15" >150</text>
<line x1="95.90" y1="513.06" x2="97.40" y2="513.06" stroke="#666" stroke-width="0.6" />
<text x="95.20" y="514.66" font-size="3.4" text-anchor="end" font-weight="bold" fill="#333" stroke="#333" stroke-width="0.15" >100</text>
<line x1="95.90" y1="529.03" x2="97.40" y2="529.03" stroke="#666" stroke-width="0.6" />
<text x="95.20" y="530.63" font-size="3.4" text-anchor="end" font-weight="bold" fill="#333" stroke="#333" stroke-width="0.15" >50</text>
<line x1="95.90" y1="545.00" x2="97.40" y2="545.00" stroke="#666" stroke-width="0.6" />
<text x="95.20" y="546.60" font-size="3.4" text-anchor="end" font-weight="bold" fill="#333" stroke="#333" stroke-width="0.15" >0</text>
<rect x="167.40" y="492.80" width="53.90" height="52.70" fill="#fff" stroke="#8a8a8a" stroke-width="1" />
<polyline points="167.50,545.20 183.30,545.00 185.10,543.40 186.80,540.50 188.60,538.70 190.20,537.80 191.60,539.30 193.40,540.50 194.60,540.50 195.80,538.10 196.60,532.10 197.90,521.40 198.80,509.50 199.60,499.90 200.30,496.30 201.10,499.90 202.00,508.30 203.20,517.80 205.00,525.00 206.50,529.10 208.10,532.10 210.10,536.30 213.10,540.50 216.70,543.40 220.80,545.00" fill="none" stroke="#555" stroke-width="0.8" stroke-linejoin="round"/>
<line x1="167.40" y1="526.90" x2="221.30" y2="526.90" stroke="#2a2a2a" stroke-width="1.0" />
<text x="171.30" y="523.50" font-size="5.6" text-anchor="start" font-weight="bold" fill="#000" stroke="#000" stroke-width="0.4" >11</text>
<text x="210.70" y="523.50" font-size="5.6" text-anchor="start" font-weight="bold" fill="#000" stroke="#000" stroke-width="0.4" >89</text>
<line x1="167.40" y1="545.50" x2="167.40" y2="546.70" stroke="#666" stroke-width="0.6" />
<text x="167.10" y="551.10" font-size="3.3" text-anchor="middle" font-weight="bold" fill="#444" stroke="#444" stroke-width="0.15" >10<tspan font-size="2.2" dy="-1.2">0</tspan></text>
<line x1="180.88" y1="545.50" x2="180.88" y2="546.70" stroke="#666" stroke-width="0.6" />
<text x="180.57" y="551.10" font-size="3.3" text-anchor="middle" font-weight="bold" fill="#444" stroke="#444" stroke-width="0.15" >10<tspan font-size="2.2" dy="-1.2">1</tspan></text>
<line x1="194.35" y1="545.50" x2="194.35" y2="546.70" stroke="#666" stroke-width="0.6" />
<text x="194.05" y="551.10" font-size="3.3" text-anchor="middle" font-weight="bold" fill="#444" stroke="#444" stroke-width="0.15" >10<tspan font-size="2.2" dy="-1.2">2</tspan></text>
<line x1="207.83" y1="545.50" x2="207.83" y2="546.70" stroke="#666" stroke-width="0.6" />
<text x="207.53" y="551.10" font-size="3.3" text-anchor="middle" font-weight="bold" fill="#444" stroke="#444" stroke-width="0.15" >10<tspan font-size="2.2" dy="-1.2">3</tspan></text>
<line x1="221.30" y1="545.50" x2="221.30" y2="546.70" stroke="#666" stroke-width="0.6" />
<text x="221.00" y="551.10" font-size="3.3" text-anchor="middle" font-weight="bold" fill="#444" stroke="#444" stroke-width="0.15" >10<tspan font-size="2.2" dy="-1.2">4</tspan></text>
<line x1="165.90" y1="503.89" x2="167.40" y2="503.89" stroke="#666" stroke-width="0.6" />
<text x="165.20" y="505.49" font-size="3.4" text-anchor="end" font-weight="bold" fill="#333" stroke="#333" stroke-width="0.15" >150</text>
<line x1="165.90" y1="517.76" x2="167.40" y2="517.76" stroke="#666" stroke-width="0.6" />
<text x="165.20" y="519.36" font-size="3.4" text-anchor="end" font-weight="bold" fill="#333" stroke="#333" stroke-width="0.15" >100</text>
<line x1="165.90" y1="531.63" x2="167.40" y2="531.63" stroke="#666" stroke-width="0.6" />
<text x="165.20" y="533.23" font-size="3.4" text-anchor="end" font-weight="bold" fill="#333" stroke="#333" stroke-width="0.15" >50</text>
<line x1="165.90" y1="545.50" x2="167.40" y2="545.50" stroke="#666" stroke-width="0.6" />
<text x="165.20" y="547.10" font-size="3.4" text-anchor="end" font-weight="bold" fill="#333" stroke="#333" stroke-width="0.15" >0</text>
<text x="255.20" y="410.80" font-size="11" text-anchor="start" font-weight="bold" fill="#000" stroke="#000" stroke-width="0.4" >F</text>
<line x1="294.80" y1="414.60" x2="294.80" y2="550.40" stroke="#7f7f7f" stroke-width="1" />
<line x1="292.30" y1="547.80" x2="294.80" y2="547.80" stroke="#7f7f7f" stroke-width="1" />
<text x="288.80" y="550.30" font-size="6.8" text-anchor="end" font-weight="bold" fill="#000" stroke="#000" stroke-width="0.4" >0</text>
<line x1="292.30" y1="534.48" x2="294.80" y2="534.48" stroke="#7f7f7f" stroke-width="1" />
<text x="288.80" y="536.98" font-size="6.8" text-anchor="end" font-weight="bold" fill="#000" stroke="#000" stroke-width="0.4" >100</text>
<line x1="292.30" y1="521.16" x2="294.80" y2="521.16" stroke="#7f7f7f" stroke-width="1" />
<text x="288.80" y="523.66" font-size="6.8" text-anchor="end" font-weight="bold" fill="#000" stroke="#000" stroke-width="0.4" >200</text>
<line x1="292.30" y1="507.84" x2="294.80" y2="507.84" stroke="#7f7f7f" stroke-width="1" />
<text x="288.80" y="510.34" font-size="6.8" text-anchor="end" font-weight="bold" fill="#000" stroke="#000" stroke-width="0.4" >300</text>
<line x1="292.30" y1="494.52" x2="294.80" y2="494.52" stroke="#7f7f7f" stroke-width="1" />
<text x="288.80" y="497.02" font-size="6.8" text-anchor="end" font-weight="bold" fill="#000" stroke="#000" stroke-width="0.4" >400</text>
<line x1="292.30" y1="481.20" x2="294.80" y2="481.20" stroke="#7f7f7f" stroke-width="1" />
<text x="288.80" y="483.70" font-size="6.8" text-anchor="end" font-weight="bold" fill="#000" stroke="#000" stroke-width="0.4" >500</text>
<line x1="292.30" y1="467.88" x2="294.80" y2="467.88" stroke="#7f7f7f" stroke-width="1" />
<text x="288.80" y="470.38" font-size="6.8" text-anchor="end" font-weight="bold" fill="#000" stroke="#000" stroke-width="0.4" >600</text>
<line x1="292.30" y1="454.56" x2="294.80" y2="454.56" stroke="#7f7f7f" stroke-width="1" />
<text x="288.80" y="457.06" font-size="6.8" text-anchor="end" font-weight="bold" fill="#000" stroke="#000" stroke-width="0.4" >700</text>
<line x1="292.30" y1="441.24" x2="294.80" y2="441.24" stroke="#7f7f7f" stroke-width="1" />
<text x="288.80" y="443.74" font-size="6.8" text-anchor="end" font-weight="bold" fill="#000" stroke="#000" stroke-width="0.4" >800</text>
<line x1="292.30" y1="427.92" x2="294.80" y2="427.92" stroke="#7f7f7f" stroke-width="1" />
<text x="288.80" y="430.42" font-size="6.8" text-anchor="end" font-weight="bold" fill="#000" stroke="#000" stroke-width="0.4" >900</text>
<line x1="292.30" y1="414.60" x2="294.80" y2="414.60" stroke="#7f7f7f" stroke-width="1" />
<text x="288.80" y="417.10" font-size="6.8" text-anchor="end" font-weight="bold" fill="#000" stroke="#000" stroke-width="0.4" >1000</text>
<line x1="294.80" y1="547.80" x2="513.00" y2="547.80" stroke="#7f7f7f" stroke-width="1.3" />
<line x1="367.50" y1="547.80" x2="367.50" y2="550.60" stroke="#7f7f7f" stroke-width="1" />
<line x1="440.20" y1="547.80" x2="440.20" y2="550.60" stroke="#7f7f7f" stroke-width="1" />
<line x1="513.00" y1="547.80" x2="513.00" y2="550.60" stroke="#7f7f7f" stroke-width="1" />
<text x="331.40" y="562.20" font-size="9.6" text-anchor="middle" font-weight="bold" fill="#000" stroke="#000" stroke-width="0.4" >DEX</text>
<text x="404.00" y="562.20" font-size="9.6" text-anchor="middle" font-weight="bold" fill="#000" stroke="#000" stroke-width="0.4" >DEX +</text>
<text x="404.00" y="573.80" font-size="9.6" text-anchor="middle" font-weight="bold" fill="#000" stroke="#000" stroke-width="0.4" >Propionic Acid</text>
<text x="476.60" y="562.20" font-size="9.6" text-anchor="middle" font-weight="bold" fill="#000" stroke="#000" stroke-width="0.4" >DEX +</text>
<text x="476.60" y="573.80" font-size="9.6" text-anchor="middle" font-weight="bold" fill="#000" stroke="#000" stroke-width="0.4" >Mifepristone</text>
<text transform="translate(271.40,472.40) rotate(-90)" font-size="9.6" text-anchor="middle" font-weight="bold" stroke="#000" stroke-width="0.4">DiOC<tspan font-size="6" dy="2.6">6</tspan><tspan dy="-2.6">(3) MFI</tspan></text>
<line x1="329.60" y1="416.30" x2="475.20" y2="416.30" stroke="#000" stroke-width="1.4" />
<polygon points="324.40,416.30 330.90,413.10 330.90,419.50" fill="#000"/>
<polygon points="480.40,416.30 473.90,413.10 473.90,419.50" fill="#000"/>
<line x1="329.60" y1="430.80" x2="401.10" y2="430.80" stroke="#000" stroke-width="1.4" />
<polygon points="324.40,430.80 330.90,427.60 330.90,434.00" fill="#000"/>
<polygon points="406.30,430.80 399.80,427.60 399.80,434.00" fill="#000"/>
<line x1="363.80" y1="422.20" x2="363.80" y2="427.80" stroke="#000" stroke-width="1.5" />
<line x1="361.38" y1="423.60" x2="366.22" y2="426.40" stroke="#000" stroke-width="1.5" />
<line x1="366.22" y1="423.60" x2="361.38" y2="426.40" stroke="#000" stroke-width="1.5" />
<line x1="400.80" y1="405.50" x2="400.80" y2="411.10" stroke="#000" stroke-width="1.5" />
<line x1="398.38" y1="406.90" x2="403.22" y2="409.70" stroke="#000" stroke-width="1.5" />
<line x1="403.22" y1="406.90" x2="398.38" y2="409.70" stroke="#000" stroke-width="1.5" />
<line x1="407.20" y1="405.50" x2="407.20" y2="411.10" stroke="#000" stroke-width="1.5" />
<line x1="404.78" y1="406.90" x2="409.62" y2="409.70" stroke="#000" stroke-width="1.5" />
<line x1="409.62" y1="406.90" x2="404.78" y2="409.70" stroke="#000" stroke-width="1.5" />
<line x1="331.20" y1="509.44" x2="403.80" y2="439.24" stroke="#000" stroke-width="1.4" />
<line x1="403.80" y1="439.24" x2="476.40" y2="431.12" stroke="#000" stroke-width="1.4" />
<line x1="331.20" y1="501.18" x2="403.80" y2="515.03" stroke="#000" stroke-width="1.4" />
<line x1="403.80" y1="515.03" x2="476.40" y2="513.43" stroke="#000" stroke-width="1.4" />
<line x1="331.20" y1="519.69" x2="403.80" y2="492.39" stroke="#000" stroke-width="1.4" />
<line x1="403.80" y1="492.39" x2="476.40" y2="501.85" stroke="#000" stroke-width="1.4" />
<line x1="331.20" y1="512.50" x2="403.80" y2="503.84" stroke="#000" stroke-width="1.4" />
<line x1="403.80" y1="503.84" x2="476.40" y2="465.08" stroke="#000" stroke-width="1.4" />
<line x1="331.20" y1="521.83" x2="403.80" y2="506.51" stroke="#000" stroke-width="1.4" />
<line x1="403.80" y1="506.51" x2="476.40" y2="497.18" stroke="#000" stroke-width="1.4" />
<line x1="331.20" y1="524.22" x2="403.80" y2="508.77" stroke="#000" stroke-width="1.4" />
<line x1="403.80" y1="508.77" x2="476.40" y2="499.45" stroke="#000" stroke-width="1.4" />
<line x1="331.20" y1="527.82" x2="403.80" y2="524.22" stroke="#000" stroke-width="1.4" />
<line x1="403.80" y1="524.22" x2="476.40" y2="518.63" stroke="#000" stroke-width="1.4" />
<line x1="331.20" y1="529.95" x2="403.80" y2="510.50" stroke="#000" stroke-width="1.4" />
<line x1="403.80" y1="510.50" x2="476.40" y2="515.30" stroke="#000" stroke-width="1.4" />
<line x1="331.20" y1="533.68" x2="403.80" y2="507.84" stroke="#000" stroke-width="1.4" />
<line x1="403.80" y1="507.84" x2="476.40" y2="503.58" stroke="#000" stroke-width="1.4" />
<line x1="331.20" y1="538.88" x2="403.80" y2="538.08" stroke="#000" stroke-width="1.4" />
<line x1="403.80" y1="538.08" x2="476.40" y2="515.03" stroke="#000" stroke-width="1.4" />
<circle cx="331.20" cy="509.44" r="2.7" fill="#000"/>
<circle cx="403.80" cy="439.24" r="2.7" fill="#000"/>
<circle cx="476.40" cy="431.12" r="2.7" fill="#000"/>
<circle cx="331.20" cy="501.18" r="2.7" fill="#000"/>
<circle cx="403.80" cy="515.03" r="2.7" fill="#000"/>
<circle cx="476.40" cy="513.43" r="2.7" fill="#000"/>
<circle cx="331.20" cy="519.69" r="2.7" fill="#000"/>
<circle cx="403.80" cy="492.39" r="2.7" fill="#000"/>
<circle cx="476.40" cy="501.85" r="2.7" fill="#000"/>
<circle cx="331.20" cy="512.50" r="2.7" fill="#000"/>
<circle cx="403.80" cy="503.84" r="2.7" fill="#000"/>
<circle cx="476.40" cy="465.08" r="2.7" fill="#000"/>
<circle cx="331.20" cy="521.83" r="2.7" fill="#000"/>
<circle cx="403.80" cy="506.51" r="2.7" fill="#000"/>
<circle cx="476.40" cy="497.18" r="2.7" fill="#000"/>
<circle cx="331.20" cy="524.22" r="2.7" fill="#000"/>
<circle cx="403.80" cy="508.77" r="2.7" fill="#000"/>
<circle cx="476.40" cy="499.45" r="2.7" fill="#000"/>
<circle cx="331.20" cy="527.82" r="2.7" fill="#000"/>
<circle cx="403.80" cy="524.22" r="2.7" fill="#000"/>
<circle cx="476.40" cy="518.63" r="2.7" fill="#000"/>
<circle cx="331.20" cy="529.95" r="2.7" fill="#000"/>
<circle cx="403.80" cy="510.50" r="2.7" fill="#000"/>
<circle cx="476.40" cy="515.30" r="2.7" fill="#000"/>
<circle cx="331.20" cy="533.68" r="2.7" fill="#000"/>
<circle cx="403.80" cy="507.84" r="2.7" fill="#000"/>
<circle cx="476.40" cy="503.58" r="2.7" fill="#000"/>
<circle cx="331.20" cy="538.88" r="2.7" fill="#000"/>
<circle cx="403.80" cy="538.08" r="2.7" fill="#000"/>
<circle cx="476.40" cy="515.03" r="2.7" fill="#000"/>
</svg>
</body></html>
